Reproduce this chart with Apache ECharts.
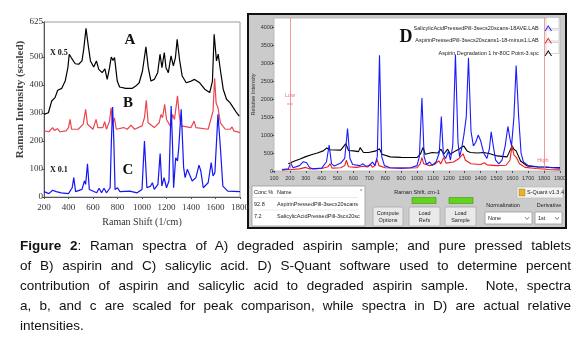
<!DOCTYPE html>
<html>
<head>
<meta charset="utf-8">
<script src="https://cdn.jsdelivr.net/npm/echarts@6/dist/echarts.min.js"></script>
<style>
  html, body { margin: 0; padding: 0; background: #fff; }
  #wrap { position: relative; width: 582px; height: 340px; overflow: hidden; }
  #chart { position: absolute; left: 0; top: 0; width: 582px; height: 340px; }
  #caption {
    position: absolute; left: 20px; top: 236px; width: 551px;
    font-family: 'Liberation Sans', Arial, sans-serif; font-size: 13.5px;
    line-height: 20px; color: #111;
  }
  #caption div { text-align: justify; text-align-last: justify; white-space: nowrap; }
  #caption div.last { text-align-last: left; }
</style>
</head>
<body>
<div id="wrap">
  <div id="chart"></div>
  <div id="caption">
    <div><b>Figure 2</b>: Raman spectra of A) degraded aspirin sample; and pure pressed tablets</div>
    <div>of B) aspirin and C) salicylic acid. D) S-Quant software used to determine percent</div>
    <div>contribution of aspirin and salicylic acid to degraded aspirin sample.&nbsp; Note, spectra</div>
    <div>a, b, and c are scaled for peak comparison, while spectra in D) are actual relative</div>
    <div class="last">intensities.</div>
  </div>
</div>
<script>
// panel A-C: scaled Raman spectra, [shift 1/cm, intensity]
const specA = [[200,295],[236,301],[263,343],[290,355],[312,381],[345,388],[373,414],[395,462],[406,510],[422,498],[433,504],[455,476],[483,474],[510,486],[524,527],[543,602],[560,545],[579,486],[606,464],[628,486],[647,456],[675,444],[697,458],[716,420],[735,462],[749,500],[763,488],[776,498],[798,414],[817,393],[867,388],[922,388],[949,396],[977,408],[1004,450],[1032,536],[1051,462],[1073,414],[1100,420],[1128,444],[1147,510],[1163,462],[1182,516],[1196,462],[1215,444],[1237,504],[1256,468],[1273,498],[1287,563],[1306,492],[1328,432],[1361,408],[1402,414],[1429,420],[1471,408],[1512,385],[1553,373],[1575,414],[1589,581],[1608,486],[1622,510],[1641,450],[1663,385],[1690,349],[1718,337],[1745,319],[1772,301],[1794,289]];
const specB = [[200,236],[240,233],[270,248],[285,238],[310,244],[330,233],[380,236],[400,248],[413,277],[425,242],[480,242],[520,260],[540,313],[555,260],[600,242],[625,277],[640,248],[680,248],[695,269],[710,242],[735,271],[748,319],[760,260],[775,283],[790,242],[850,248],[880,242],[910,257],[940,242],[1000,254],[1020,283],[1035,345],[1050,265],[1100,248],[1140,265],[1155,295],[1168,283],[1185,331],[1200,277],[1230,254],[1250,295],[1265,277],[1290,361],[1305,289],[1320,254],[1400,248],[1425,271],[1440,248],[1540,242],[1580,307],[1593,424],[1605,336],[1620,319],[1640,265],[1680,242],[1720,242],[1735,250],[1750,236],[1800,230]];
const specC = [[200,19],[240,12],[270,24],[300,19],[340,15],[400,12],[430,33],[443,69],[458,19],[510,27],[530,57],[540,45],[555,119],[570,27],[630,15],[650,31],[670,15],[690,31],[710,15],[740,33],[750,200],[760,321],[770,200],[780,27],[800,33],[820,19],[900,21],[960,15],[1000,27],[1020,200],[1026,205],[1040,33],[1070,39],[1085,51],[1100,27],[1130,45],[1148,155],[1162,39],[1180,69],[1200,33],[1220,57],[1238,325],[1250,176],[1258,33],[1275,140],[1290,129],[1300,176],[1320,313],[1340,105],[1352,69],[1370,99],[1385,93],[1410,57],[1440,69],[1465,114],[1480,93],[1500,33],[1540,51],[1565,123],[1580,75],[1595,87],[1620,295],[1640,176],[1660,39],[1700,21],[1800,19]];
const leftYTicks = [0, 100, 200, 300, 400, 500, 625];

// panel D: S-Quant relative intensities
const nameSal = 'SalicylicAcidPressedPill-3secs20scans-18AVE.LAB';
const nameAsp = 'AspirinPressedPill-3secs20scans1-18-minus1.LAB';
const nameDeg = 'Aspirin Degradation 1 hr-80C Point-3.spc';
const specSal = [[150,40],[190,60],[205,220],[220,90],[260,150],[285,260],[305,230],[325,90],[345,60],[400,80],[430,250],[447,720],[462,200],[480,140],[520,220],[545,350],[563,1180],[578,350],[595,180],[640,150],[660,200],[680,130],[700,150],[720,250],[735,150],[750,400],[764,3220],[778,400],[795,150],[830,90],[900,80],[960,90],[1000,150],[1015,400],[1031,2030],[1045,400],[1060,180],[1080,250],[1095,160],[1120,250],[1140,500],[1153,1520],[1166,450],[1180,350],[1198,550],[1210,300],[1225,700],[1242,3240],[1258,800],[1268,400],[1280,600],[1295,1000],[1310,1500],[1324,3150],[1340,1100],[1355,700],[1370,800],[1385,1000],[1400,850],[1420,500],[1440,350],[1455,600],[1467,1090],[1480,700],[1495,300],[1515,200],[1535,300],[1555,700],[1572,1240],[1585,900],[1595,700],[1610,1500],[1624,2940],[1640,1500],[1655,500],[1670,250],[1700,150],[1760,120],[1830,100],[1900,80]];
const specAsp = [[150,20],[190,40],[200,90],[210,40],[260,60],[300,100],[320,60],[400,70],[440,120],[453,200],[465,80],[520,90],[545,150],[556,300],[568,120],[620,100],[660,130],[690,110],[705,190],[720,100],[735,150],[748,330],[760,150],[800,90],[900,80],[1000,90],[1020,200],[1031,370],[1042,200],[1080,150],[1110,180],[1137,280],[1150,200],[1168,380],[1182,220],[1230,250],[1265,350],[1290,480],[1305,300],[1340,200],[1400,180],[1425,230],[1440,170],[1500,150],[1560,160],[1585,300],[1598,700],[1610,450],[1625,380],[1645,200],[1680,100],[1750,70],[1830,40],[1900,30]];
const specDeg = [[190,200],[230,280],[260,330],[300,400],[340,460],[373,500],[410,560],[432,640],[450,590],[520,580],[552,760],[569,570],[600,560],[632,540],[642,650],[663,514],[695,514],[701,467],[743,560],[764,620],[779,467],[832,393],[900,380],[1000,374],[1021,467],[1038,654],[1052,467],[1095,514],[1130,500],[1151,607],[1168,467],[1193,607],[1210,467],[1242,560],[1263,607],[1294,700],[1315,560],[1336,514],[1380,500],[1420,514],[1460,480],[1504,420],[1567,393],[1599,700],[1610,607],[1624,560],[1652,280],[1694,140],[1760,110],[1830,100],[1900,93]];
const rightYTicks = [0, 500, 1000, 1500, 2000, 2500, 3000, 3500, 4000];
const concRows = [['92.8', 'AspirinPressedPill-3secx20scans'], ['7.2', 'SalicylicAcidPressedPill-3scx20sc']];

const serif = 'Liberation Serif';
const sans = 'Liberation Sans';
const plain = (v) => String(v);   // no thousands separators
const chart = echarts.init(document.getElementById('chart'));

function lineSeries(name, data, color, axis, width) {
  return {
    name: name, type: 'line', data: data,
    xAxisIndex: axis, yAxisIndex: axis,
    showSymbol: false, symbol: 'none',
    lineStyle: { color: color, width: width },
    itemStyle: { color: color },
  };
}

const uiText = (x, y, text, extra) => ({
  type: 'text', x: x, y: y, z: 100,
  style: Object.assign({ text: text, fontFamily: sans, fontSize: 5.5, fill: '#222', verticalAlign: 'middle' }, extra || {}),
});

function button(x, y, w, h, l1, l2) {
  return [
    { type: 'rect', z: 90, shape: { x: x, y: y, width: w, height: h, r: 1 }, style: { fill: '#e9e9e9', stroke: '#a8a8a8', lineWidth: 0.8 } },
    uiText(x + w / 2, y + 6, l1, { align: 'center' }),
    uiText(x + w / 2, y + 13.5, l2, { align: 'center' }),
  ];
}

function select(x, y, w, label) {
  return [
    { type: 'rect', z: 90, shape: { x: x, y: y, width: w, height: 12 }, style: { fill: '#fff', stroke: '#999', lineWidth: 0.8 } },
    uiText(x + 3, y + 6, label),
    { type: 'polyline', z: 100, shape: { points: [[x + w - 7, y + 5], [x + w - 5, y + 7.5], [x + w - 3, y + 5]] }, style: { stroke: '#666', lineWidth: 0.8, fill: null } },
  ];
}

// boxes behind the legend chevrons (legend itself sits at z 4)
const iconBox = (y) => ({ type: 'rect', z: 3, shape: { x: 546, y: y, width: 13, height: 11 }, style: { fill: '#fff', stroke: '#bbb', lineWidth: 0.6 } });

const graphics = [
  // S-Quant window
  { type: 'rect', z: -100, shape: { x: 248, y: 14, width: 318, height: 214 }, style: { fill: '#cbcbcb', stroke: '#111', lineWidth: 2 } },
  // panel labels
  { type: 'text', x: 130, y: 40, z: 100, style: { text: 'A', fontFamily: serif, fontWeight: 'bold', fontSize: 15, fill: '#111', align: 'center', verticalAlign: 'middle' } },
  { type: 'text', x: 128, y: 103, z: 100, style: { text: 'B', fontFamily: serif, fontWeight: 'bold', fontSize: 15, fill: '#111', align: 'center', verticalAlign: 'middle' } },
  { type: 'text', x: 128, y: 170, z: 100, style: { text: 'C', fontFamily: serif, fontWeight: 'bold', fontSize: 15, fill: '#111', align: 'center', verticalAlign: 'middle' } },
  { type: 'text', x: 50, y: 53, z: 100, style: { text: 'X 0.5', fontFamily: serif, fontWeight: 'bold', fontSize: 8, fill: '#111', verticalAlign: 'middle' } },
  { type: 'text', x: 50, y: 170, z: 100, style: { text: 'X 0.1', fontFamily: serif, fontWeight: 'bold', fontSize: 8, fill: '#111', verticalAlign: 'middle' } },
  { type: 'text', x: 406, y: 37, z: 100, style: { text: 'D', fontFamily: serif, fontWeight: 'bold', fontSize: 18, fill: '#111', align: 'center', verticalAlign: 'middle' } },
  // Low / High markers
  uiText(290, 95, 'Low', { align: 'center', fill: '#f07070' }),
  { type: 'line', z: 100, shape: { x1: 287, y1: 104, x2: 293, y2: 104 }, style: { stroke: '#f07070', lineWidth: 0.8 } },
  uiText(543, 160, 'High', { align: 'center', fill: '#f07070' }),
  { type: 'line', z: 100, shape: { x1: 540, y1: 168, x2: 546, y2: 168 }, style: { stroke: '#f07070', lineWidth: 0.8 } },
  iconBox(17.5), iconBox(30), iconBox(42.5),
  // concentration table
  { type: 'rect', z: 90, shape: { x: 252, y: 186, width: 113, height: 40 }, style: { fill: '#fff', stroke: '#999', lineWidth: 0.8 } },
  { type: 'line', z: 95, shape: { x1: 252, y1: 197.5, x2: 358, y2: 197.5 }, style: { stroke: '#ddd', lineWidth: 0.6 } },
  { type: 'line', z: 95, shape: { x1: 252, y1: 210, x2: 358, y2: 210 }, style: { stroke: '#ddd', lineWidth: 0.6 } },
  uiText(254, 192, 'Conc %'),
  uiText(277, 192, 'Name'),
  uiText(361, 191, '^', { align: 'center', fill: '#666' }),
  uiText(254, 204, concRows[0][0]),
  uiText(277, 204, concRows[0][1]),
  uiText(254, 216, concRows[1][0]),
  uiText(277, 216, concRows[1][1]),
  // status lamps
  { type: 'rect', z: 90, shape: { x: 412, y: 197.5, width: 24, height: 6 }, style: { fill: '#62d41c', stroke: '#3f8f14', lineWidth: 0.6 } },
  { type: 'rect', z: 90, shape: { x: 449, y: 197.5, width: 24, height: 6 }, style: { fill: '#62d41c', stroke: '#3f8f14', lineWidth: 0.6 } },
  ...button(373, 207, 30, 19, 'Compute', 'Options'),
  ...button(409, 207, 31, 19, 'Load', 'Refs'),
  ...button(445, 207, 31, 19, 'Load', 'Sample'),
  uiText(503, 205, 'Normalization', { align: 'center' }),
  ...select(485, 212, 47, 'None'),
  uiText(549, 205, 'Derivative', { align: 'center' }),
  ...select(535, 212, 27, '1st'),
  // version badge
  { type: 'rect', z: 90, shape: { x: 517, y: 187, width: 46, height: 11 }, style: { fill: '#f4f4f4', stroke: '#b5b5b5', lineWidth: 0.6 } },
  { type: 'rect', z: 95, shape: { x: 519, y: 189, width: 6, height: 7 }, style: { fill: '#e6b422', stroke: '#8a6a10', lineWidth: 0.4 } },
  uiText(527, 192.5, 'S-Quant v1.3.4'),
];

const option = {
  animation: false,
  grid: [
    { left: 44, top: 22, width: 196, height: 175, show: true, borderColor: '#9a9a9a', borderWidth: 1, backgroundColor: '#fff' },
    { left: 274, top: 18, width: 286, height: 153, show: true, borderColor: '#b0b0b0', borderWidth: 0.8, backgroundColor: '#fff' },
  ],
  xAxis: [
    {
      gridIndex: 0, type: 'value', min: 200, max: 1800, interval: 200,
      name: 'Raman Shift (1/cm)', nameLocation: 'middle', nameGap: 17,
      nameTextStyle: { fontFamily: serif, fontSize: 10, color: '#333' },
      axisLine: { show: true, onZero: false, lineStyle: { color: '#555', width: 1 } },
      axisTick: { show: true, length: 2, lineStyle: { color: '#555' } },
      axisLabel: { formatter: plain, fontFamily: serif, fontSize: 9, color: '#333', margin: 6 },
      splitLine: { show: false },
    },
    {
      gridIndex: 1, type: 'value', min: 100, max: 1900, interval: 100,
      name: 'Raman Shift, cm-1', nameLocation: 'middle', nameGap: 18,
      nameTextStyle: { fontFamily: sans, fontSize: 5.5, color: '#222' },
      axisLine: { show: false },
      axisTick: { show: true, length: 2, lineStyle: { color: '#333', width: 0.8 } },
      axisLabel: { formatter: plain, fontFamily: sans, fontSize: 5.5, color: '#333', margin: 4 },
      splitLine: { show: false },
    },
  ],
  yAxis: [
    {
      gridIndex: 0, type: 'value', min: 0, max: 625,
      name: 'Raman Intensity (scaled)', nameLocation: 'middle', nameGap: 15,
      nameTextStyle: { fontFamily: serif, fontSize: 11, fontWeight: 'bold', color: '#444', padding: [0, 0, 0, 20] },
      axisLine: { show: true, lineStyle: { color: '#555', width: 1 } },
      axisTick: { show: true, length: 2, customValues: leftYTicks, lineStyle: { color: '#555' } },
      axisLabel: { customValues: leftYTicks, formatter: plain, fontFamily: serif, fontSize: 9, color: '#333', margin: 1 },
      splitLine: { show: false },
    },
    {
      gridIndex: 1, type: 'value', min: 0, max: 4260,
      name: 'Relative Intensity', nameLocation: 'middle', nameGap: 14,
      nameTextStyle: { fontFamily: sans, fontSize: 5.5, color: '#333' },
      axisLine: { show: false },
      axisTick: { show: true, length: 2, customValues: rightYTicks, lineStyle: { color: '#333', width: 0.8 } },
      axisLabel: { customValues: rightYTicks, formatter: plain, fontFamily: sans, fontSize: 5.5, color: '#333', margin: 1 },
      splitLine: { show: false },
    },
  ],
  legend: {
    data: [nameSal, nameAsp, nameDeg],
    orient: 'vertical', right: 25, top: 20, align: 'right',
    itemWidth: 9, itemHeight: 6, itemGap: 6.5,
    icon: 'path://M0,8L5,0L10,8L8.6,8L5,2.4L1.4,8Z',
    textStyle: { fontFamily: sans, fontSize: 5.5, color: '#222' },
  },
  graphic: graphics,
  series: [
    lineSeries('A', specA, '#000', 0, 1.2),
    lineSeries('B', specB, '#e8474f', 0, 1.2),
    lineSeries('C', specC, '#1515f5', 0, 1.2),
    Object.assign(lineSeries(nameDeg, specDeg, '#000', 1, 1.1), {
      markLine: {
        silent: true, symbol: 'none', label: { show: false },
        lineStyle: { color: '#f08080', width: 0.8, type: 'solid' },
        data: [{ xAxis: 200 }, { xAxis: 1800 }],
      },
    }),
    lineSeries(nameAsp, specAsp, '#f01c1c', 1, 1.1),
    lineSeries(nameSal, specSal, '#1a1aff', 1, 1.1),
  ],
};

chart.setOption(option);
window.addEventListener('resize', () => chart.resize());
</script>
</body>
</html>
